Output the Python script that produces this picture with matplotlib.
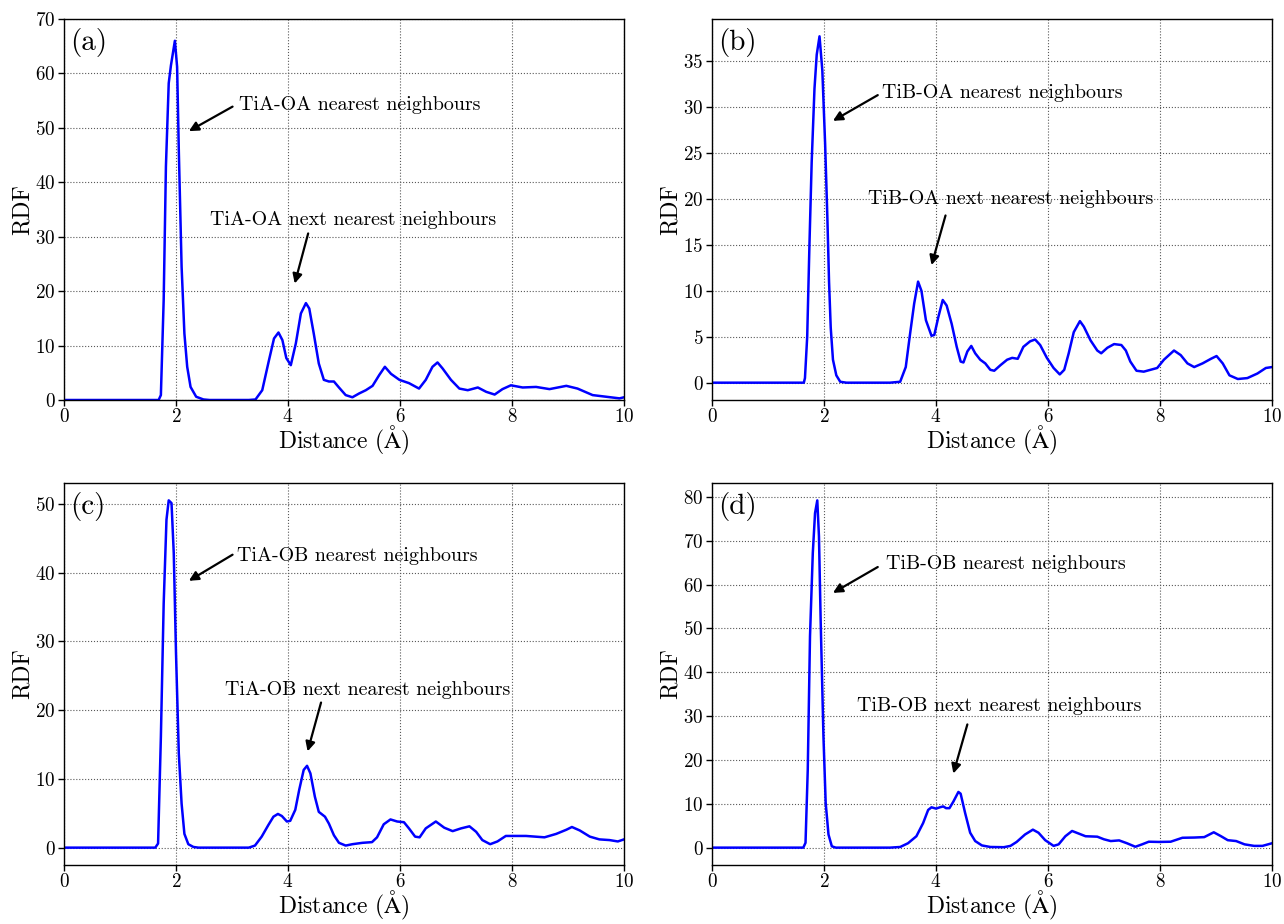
import matplotlib
matplotlib.use("Agg")
import matplotlib.pyplot as plt

plt.rcParams["font.family"] = ["cmr10", "DejaVu Serif"]
plt.rcParams["mathtext.fontset"] = "cm"
plt.rcParams["axes.formatter.use_mathtext"] = True

# Radial distribution functions, distance in Angstrom
tiA_oA_r = [0, 1.69, 1.73, 1.78, 1.82, 1.87, 1.91, 1.98, 2.02, 2.05, 2.10, 2.15, 2.20, 2.26, 2.36, 2.49, 2.6,
            3.30, 3.42, 3.54, 3.66, 3.75, 3.83, 3.90, 3.97, 4.05, 4.14, 4.23, 4.32, 4.38, 4.46, 4.55, 4.64,
            4.73, 4.82, 4.91, 5.03, 5.15, 5.27, 5.39, 5.51, 5.63, 5.73, 5.84, 5.99, 6.16, 6.34, 6.46, 6.58,
            6.67, 6.76, 6.91, 7.06, 7.21, 7.39, 7.54, 7.69, 7.83, 7.98, 8.19, 8.43, 8.67, 8.97, 9.17, 9.44,
            9.68, 9.92, 10.0]
tiA_oA_g = [0, 0, 0.9, 18.4, 42.9, 58.2, 61.5, 66.0, 61.2, 45.9, 24.5, 12.2, 6.1, 2.4, 0.6, 0.1, 0,
            0, 0.1, 1.8, 7.3, 11.3, 12.4, 11.0, 7.7, 6.4, 10.4, 15.9, 17.8, 16.8, 12.2, 6.7, 3.7,
            3.4, 3.4, 2.3, 0.9, 0.5, 1.2, 1.8, 2.6, 4.6, 6.1, 4.8, 3.7, 3.1, 2.1, 3.7, 6.1,
            6.9, 5.8, 3.7, 2.1, 1.8, 2.3, 1.5, 1.0, 2.0, 2.7, 2.3, 2.4, 2.0, 2.6, 2.1, 0.9,
            0.6, 0.3, 0.5]

tiB_oA_r = [0, 1.64, 1.66, 1.70, 1.74, 1.78, 1.83, 1.87, 1.92, 1.97, 2.02, 2.06, 2.09, 2.12, 2.16, 2.22,
            2.29, 2.40, 3.18, 3.36, 3.46, 3.53, 3.61, 3.68, 3.74, 3.82, 3.92, 3.97, 4.04, 4.12, 4.19, 4.28,
            4.37, 4.44, 4.49, 4.56, 4.63, 4.70, 4.79, 4.88, 4.97, 5.04, 5.15, 5.27, 5.36, 5.46, 5.56, 5.68,
            5.77, 5.86, 5.98, 6.10, 6.21, 6.29, 6.37, 6.46, 6.57, 6.64, 6.76, 6.88, 6.95, 7.06, 7.18, 7.31,
            7.39, 7.47, 7.58, 7.71, 7.83, 7.95, 8.07, 8.25, 8.37, 8.49, 8.61, 8.76, 8.91, 9.01, 9.12, 9.24,
            9.39, 9.56, 9.74, 9.89, 10.0]
tiB_oA_g = [0, 0, 0.5, 5.0, 15.0, 24.0, 32.0, 35.7, 37.7, 34.0, 26.0, 18.0, 11.0, 6.0, 2.5, 0.8,
            0.1, 0, 0, 0.1, 1.7, 5.0, 8.6, 11.0, 10.0, 6.8, 5.1, 5.2, 7.1, 9.0, 8.4, 6.4,
            3.9, 2.3, 2.2, 3.4, 4.0, 3.2, 2.5, 2.1, 1.4, 1.3, 1.9, 2.5, 2.7, 2.6, 3.9, 4.5,
            4.7, 4.1, 2.7, 1.6, 0.9, 1.4, 3.2, 5.5, 6.7, 6.1, 4.6, 3.5, 3.2, 3.8, 4.2, 4.1,
            3.5, 2.3, 1.3, 1.2, 1.4, 1.6, 2.5, 3.5, 3.0, 2.1, 1.7, 2.1, 2.6, 2.9, 2.1, 0.8,
            0.4, 0.5, 1.0, 1.6, 1.7]

tiA_oB_r = [0, 1.63, 1.68, 1.73, 1.78, 1.83, 1.87, 1.92, 1.96, 2.00, 2.05, 2.10, 2.15, 2.22, 2.31, 2.40,
            3.30, 3.41, 3.53, 3.65, 3.74, 3.82, 3.89, 3.98, 4.04, 4.13, 4.20, 4.28, 4.34, 4.40, 4.48, 4.55,
            4.66, 4.73, 4.82, 4.91, 5.03, 5.15, 5.33, 5.50, 5.59, 5.71, 5.83, 5.95, 6.07, 6.16, 6.27, 6.35,
            6.46, 6.64, 6.79, 6.94, 7.09, 7.24, 7.36, 7.47, 7.61, 7.74, 7.89, 8.01, 8.25, 8.58, 8.79, 8.97,
            9.07, 9.21, 9.39, 9.56, 9.74, 9.89, 10.0]
tiA_oB_g = [0, 0, 0.6, 16.1, 35.5, 47.7, 50.5, 50.1, 42.8, 28.3, 13.7, 6.4, 2.0, 0.5, 0.1, 0,
            0, 0.3, 1.6, 3.3, 4.5, 4.9, 4.6, 3.8, 3.9, 5.5, 8.4, 11.3, 11.9, 10.8, 7.4, 5.2,
            4.5, 3.5, 1.8, 0.7, 0.3, 0.5, 0.7, 0.8, 1.5, 3.4, 4.1, 3.8, 3.7, 2.8, 1.6, 1.5,
            2.8, 3.8, 2.9, 2.4, 2.8, 3.1, 2.3, 1.1, 0.5, 0.9, 1.7, 1.7, 1.7, 1.5, 2.0, 2.6,
            3.0, 2.5, 1.6, 1.2, 1.1, 0.9, 1.2]

tiB_oB_r = [0, 1.63, 1.67, 1.71, 1.75, 1.80, 1.84, 1.88, 1.91, 1.94, 1.99, 2.03, 2.08, 2.14, 2.21,
            3.18, 3.36, 3.50, 3.65, 3.77, 3.86, 3.92, 4.00, 4.07, 4.13, 4.18, 4.24, 4.31, 4.40, 4.44,
            4.52, 4.61, 4.70, 4.82, 4.97, 5.21, 5.33, 5.44, 5.59, 5.73, 5.83, 5.95, 6.10, 6.19, 6.31,
            6.43, 6.55, 6.67, 6.88, 7.00, 7.12, 7.27, 7.41, 7.56, 7.68, 7.80, 7.98, 8.19, 8.40, 8.61,
            8.79, 8.96, 9.09, 9.21, 9.36, 9.51, 9.68, 9.83, 10.0]
tiB_oB_g = [0, 0, 1.1, 17.8, 48.2, 67.2, 76.3, 79.2, 71.0, 52.0, 25.4, 10.2, 3.0, 0.3, 0,
            0, 0.15, 1.0, 2.6, 5.6, 8.6, 9.2, 8.9, 9.2, 9.4, 9.0, 9.0, 10.5, 12.7, 12.3,
            7.9, 3.4, 1.5, 0.5, 0.15, 0.1, 0.4, 1.3, 3.0, 4.1, 3.4, 1.7, 0.4, 0.75, 2.6,
            3.8, 3.2, 2.6, 2.5, 1.9, 1.5, 1.65, 1.0, 0.2, 0.75, 1.35, 1.3, 1.35, 2.25, 2.3,
            2.4, 3.5, 2.6, 1.7, 1.5, 0.75, 0.4, 0.4, 1.0]

pair_names = ["TiA-OA", "TiB-OA", "TiA-OB", "TiB-OB"]
panel_tags = ["(a)", "(b)", "(c)", "(d)"]
series = [(tiA_oA_r, tiA_oA_g), (tiB_oA_r, tiB_oA_g), (tiA_oB_r, tiA_oB_g), (tiB_oB_r, tiB_oB_g)]

# annotation layout per panel: (text pos, arrow tail, arrow head) for first and second shell
first_shell = [((3.13, 53.3), (3.01, 53.9), (2.23, 49.4)),
               ((3.04, 31.0), (2.96, 31.3), (2.16, 28.5)),
               ((3.09, 41.7), (3.01, 42.6), (2.23, 38.8)),
               ((3.11, 63.6), (2.96, 64.0), (2.16, 58.1))]
second_shell = [((2.61, 32.1), (4.36, 30.6), (4.12, 21.4)),
                ((2.79, 19.4), (4.17, 18.2), (3.92, 12.8)),
                ((2.87, 22.2), (4.59, 21.1), (4.35, 14.0)),
                ((2.59, 31.1), (4.56, 28.1), (4.31, 16.9))]

W, H = 1284, 924
fig = plt.figure(figsize=(W / 100, H / 100), dpi=100)
boxes = [(64, 19, 624, 400), (712, 19, 1272, 400), (64, 483, 624, 865), (712, 483, 1272, 865)]

arrow_kw = dict(arrowstyle="-|>", color="black", lw=1.6, mutation_scale=14, shrinkA=0, shrinkB=0)

for i, (r, g) in enumerate(series):
    x0, y0, x1, y1 = boxes[i]
    ax = fig.add_axes([x0 / W, 1 - y1 / H, (x1 - x0) / W, (y1 - y0) / H])
    ax.plot(r, g, color="#0000ff", lw=1.8)
    ax.set_xlim(0, 10)
    if i == 0:
        ax.set_ylim(0, 70)
    ax.set_xticks([0, 2, 4, 6, 8, 10])
    ax.grid(True, linestyle=":", color="0.35", lw=0.8)
    ax.tick_params(labelsize=13.8, direction="out", length=4, width=1, pad=2)
    for s in ax.spines.values():
        s.set_linewidth(1.0)
    ax.set_xlabel(r"Distance ($\mathrm{\AA}$)", fontsize=17, labelpad=-1.5)
    ax.set_ylabel("RDF", fontsize=17, labelpad=1.5)
    ax.text(0.011, 0.977, panel_tags[i], transform=ax.transAxes, fontsize=21, va="top", ha="left")

    (tp, tail, head) = first_shell[i]
    ax.text(tp[0], tp[1], f"{pair_names[i]} nearest neighbours", fontsize=14.4)
    ax.annotate("", xy=head, xytext=tail, arrowprops=arrow_kw)
    (tp, tail, head) = second_shell[i]
    ax.text(tp[0], tp[1], f"{pair_names[i]} next nearest neighbours", fontsize=14.4)
    ax.annotate("", xy=head, xytext=tail, arrowprops=arrow_kw)

fig.savefig("out.png", dpi=100)
